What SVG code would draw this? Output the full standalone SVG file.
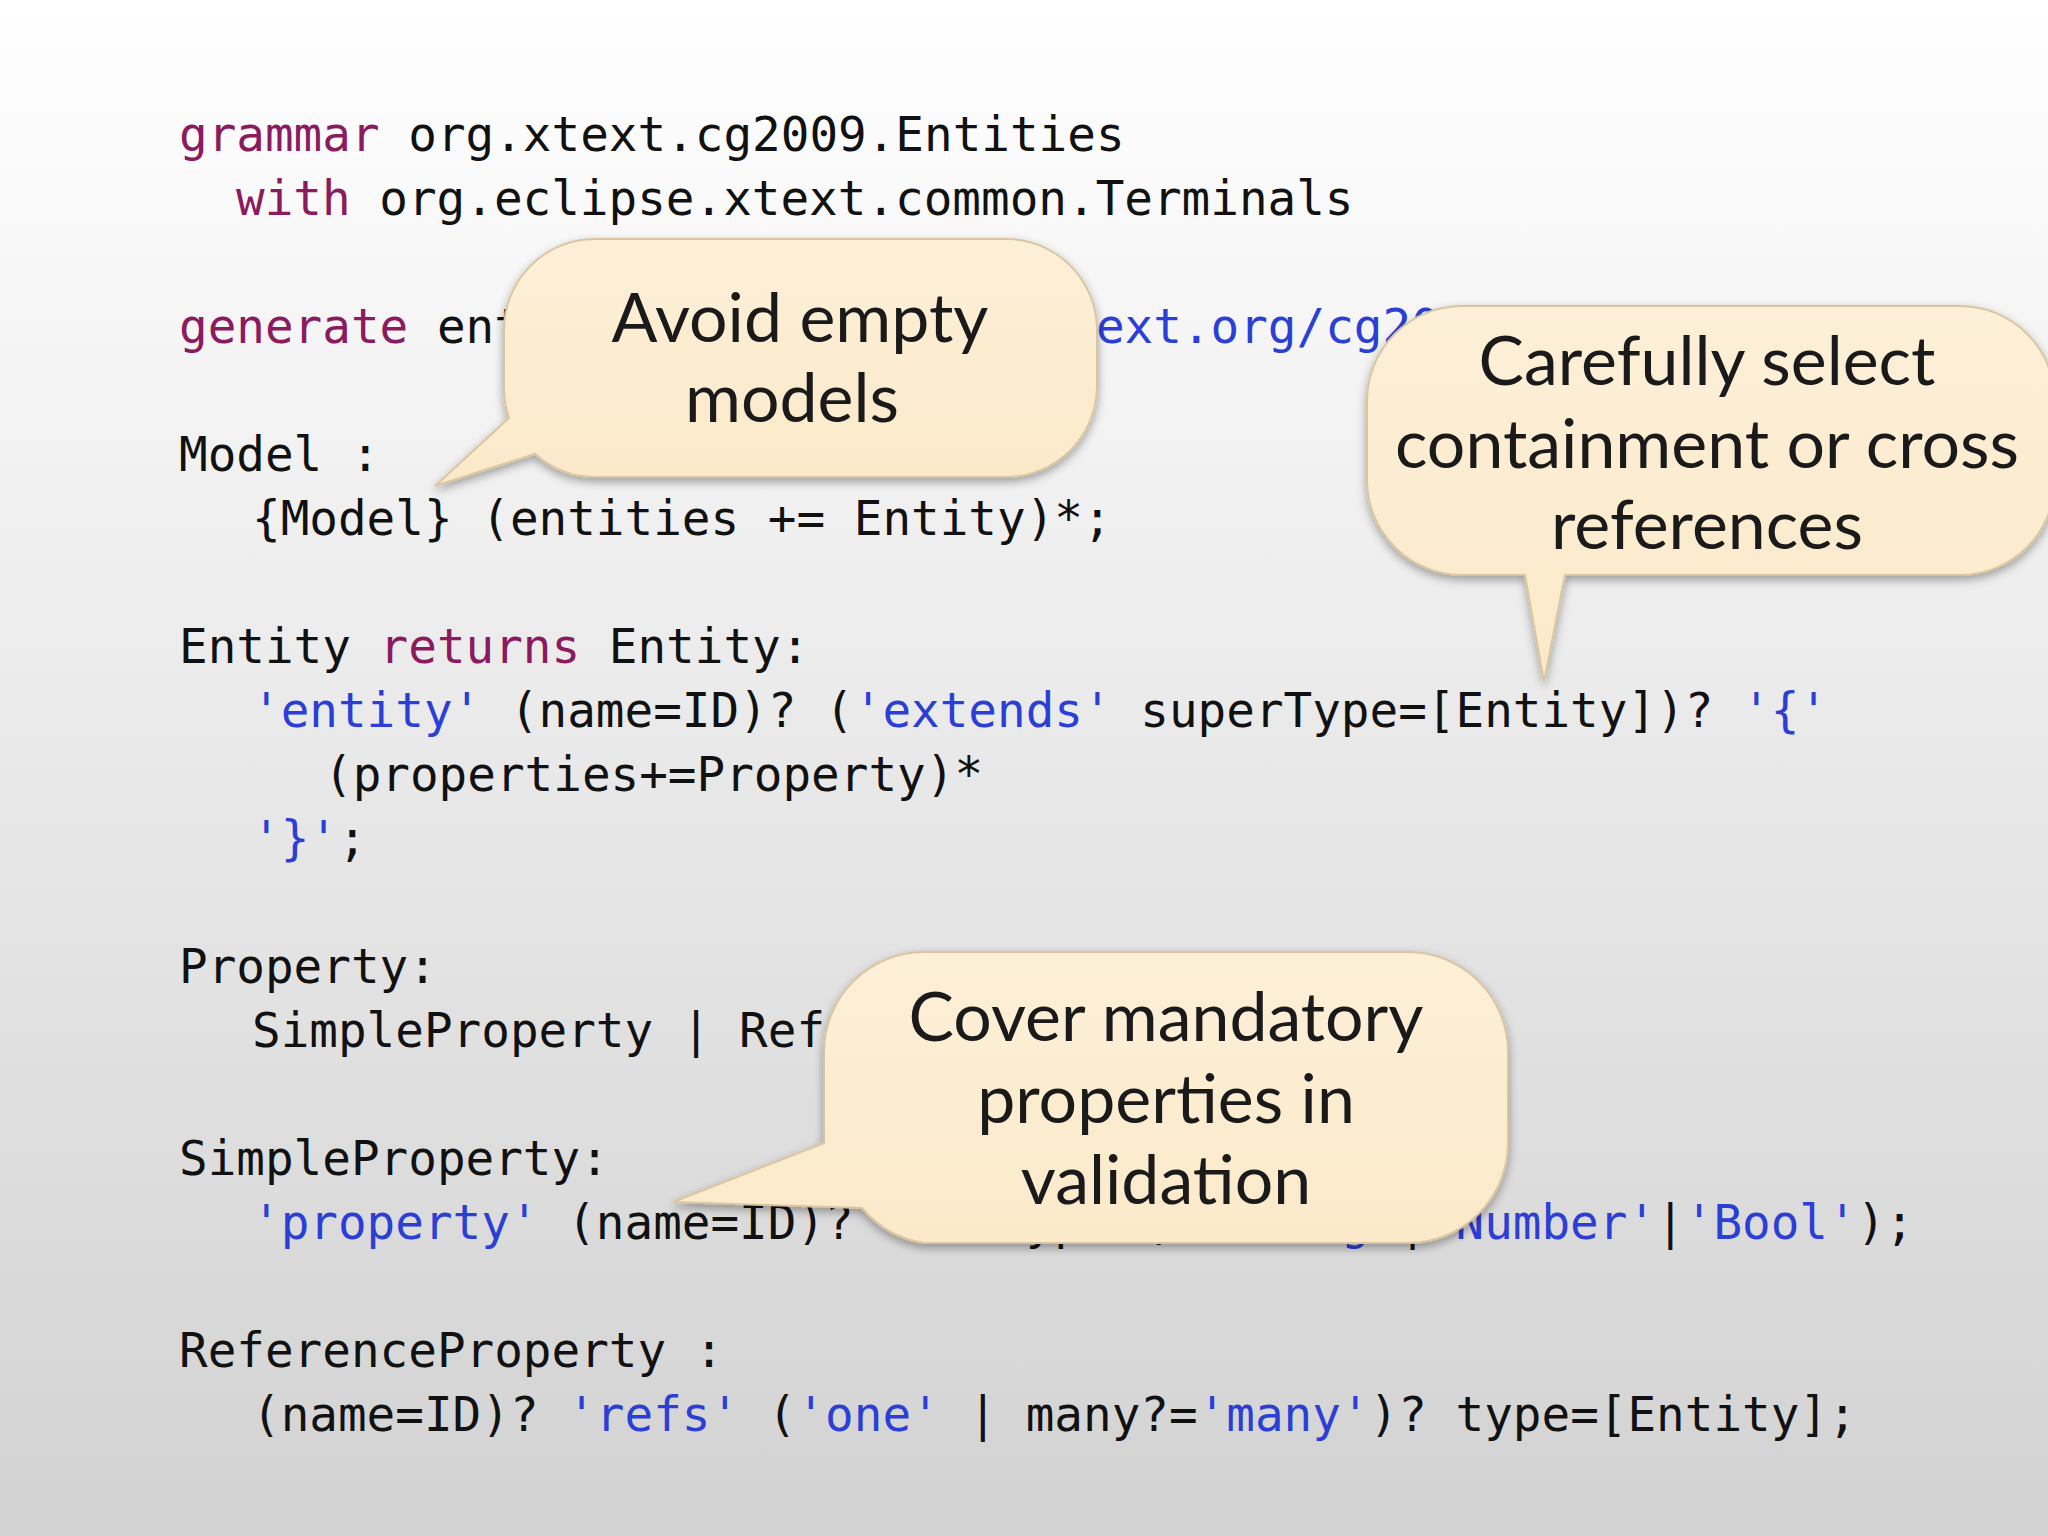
<svg xmlns="http://www.w3.org/2000/svg" width="2048" height="1536" viewBox="0 0 2048 1536">
<defs>
<linearGradient id="bg" x1="0" y1="0" x2="0" y2="1"><stop offset="0" stop-color="#ffffff"/><stop offset="1" stop-color="#d2d2d2"/></linearGradient>
<linearGradient id="cf" x1="0" y1="0" x2="0" y2="1"><stop offset="0" stop-color="#fdf0d8"/><stop offset="1" stop-color="#fbe9c9"/></linearGradient>
<filter id="sh" x="-10%" y="-10%" width="120%" height="130%"><feDropShadow dx="0" dy="4" stdDeviation="5" flood-color="#000" flood-opacity="0.35"/></filter>
<style>
.c{font-family:"DejaVu Sans Mono",monospace;font-size:47.6px;fill:#111;white-space:pre}
.k{fill:#8b1a5e}.s{fill:#2b3fd6}
.b{fill:url(#cf);stroke:#d9c6a0;stroke-width:2;filter:url(#sh)}
.t{font-family:Lato,"Open Sans",sans-serif;font-size:68px;fill:#1a1a1a;text-anchor:middle}
</style>
</defs>
<rect width="2048" height="1536" fill="url(#bg)"/>
<g id="code">
<text class="c" x="179" y="151" xml:space="preserve"><tspan class="k">grammar</tspan> org.xtext.cg2009.Entities</text>
<text class="c" x="236" y="215" xml:space="preserve"><tspan class="k">with</tspan> org.eclipse.xtext.common.Terminals</text>
<text class="c" x="179" y="343" xml:space="preserve"><tspan class="k">generate</tspan> entities <tspan class="s">"http://www.xtext.org/cg2009/Entities"</tspan></text>
<text class="c" x="179" y="471" xml:space="preserve">Model :</text>
<text class="c" x="252" y="535" xml:space="preserve">{Model} (entities += Entity)*;</text>
<text class="c" x="179" y="663" xml:space="preserve">Entity <tspan class="k">returns</tspan> Entity:</text>
<text class="c" x="252" y="727" xml:space="preserve"><tspan class="s">'entity'</tspan> (name=ID)? (<tspan class="s">'extends'</tspan> superType=[Entity])? <tspan class="s">'{'</tspan></text>
<text class="c" x="324" y="791" xml:space="preserve">(properties+=Property)*</text>
<text class="c" x="252" y="855" xml:space="preserve"><tspan class="s">'}'</tspan>;</text>
<text class="c" x="179" y="983" xml:space="preserve">Property:</text>
<text class="c" x="252" y="1047" xml:space="preserve">SimpleProperty | ReferenceProperty;</text>
<text class="c" x="179" y="1175" xml:space="preserve">SimpleProperty:</text>
<text class="c" x="252" y="1239" xml:space="preserve"><tspan class="s">'property'</tspan> (name=ID)? <tspan class="s">':'</tspan> type=(<tspan class="s">'String'</tspan>|<tspan class="s">'Number'</tspan>|<tspan class="s">'Bool'</tspan>);</text>
<text class="c" x="179" y="1367" xml:space="preserve">ReferenceProperty :</text>
<text class="c" x="252" y="1431" xml:space="preserve">(name=ID)? <tspan class="s">'refs'</tspan> (<tspan class="s">'one'</tspan> | many?=<tspan class="s">'many'</tspan>)? type=[Entity];</text>
</g>
<g id="connectors"></g>
<g id="callout1">
<path class="b" d="M595,239 H1006 A91,91 0 0 1 1097,330 V386 A91,91 0 0 1 1006,477 H595 A91,91 0 0 1 535,454 L435,486 L509,418 A91,91 0 0 1 504,386 V330 A91,91 0 0 1 595,239 Z"/>
<text class="t" x="800" y="342">Avoid empty</text>
<text class="t" x="792" y="422">models</text>
</g>
<g id="callout2">
<path class="b" d="M1462,306 H1960 A95,95 0 0 1 2055,401 V480 A95,95 0 0 1 1960,575 H1565 L1544,682 L1525,575 H1462 A95,95 0 0 1 1367,480 V401 A95,95 0 0 1 1462,306 Z"/>
<text class="t" x="1707" y="385">Carefully select</text>
<text class="t" x="1707" y="468">containment or cross</text>
<text class="t" x="1707" y="549">references</text>
</g>
<g id="callout3">
<path class="b" d="M924,952 H1408 A100,100 0 0 1 1508,1052 V1143 A100,100 0 0 1 1408,1243 H924 A100,100 0 0 1 862,1208 L673,1202 L824,1143 V1052 A100,100 0 0 1 924,952 Z"/>
<text class="t" x="1166" y="1041">Cover mandatory</text>
<text class="t" x="1166" y="1123">properties in</text>
<text class="t" x="1166" y="1204">validation</text>
</g>
</svg>
